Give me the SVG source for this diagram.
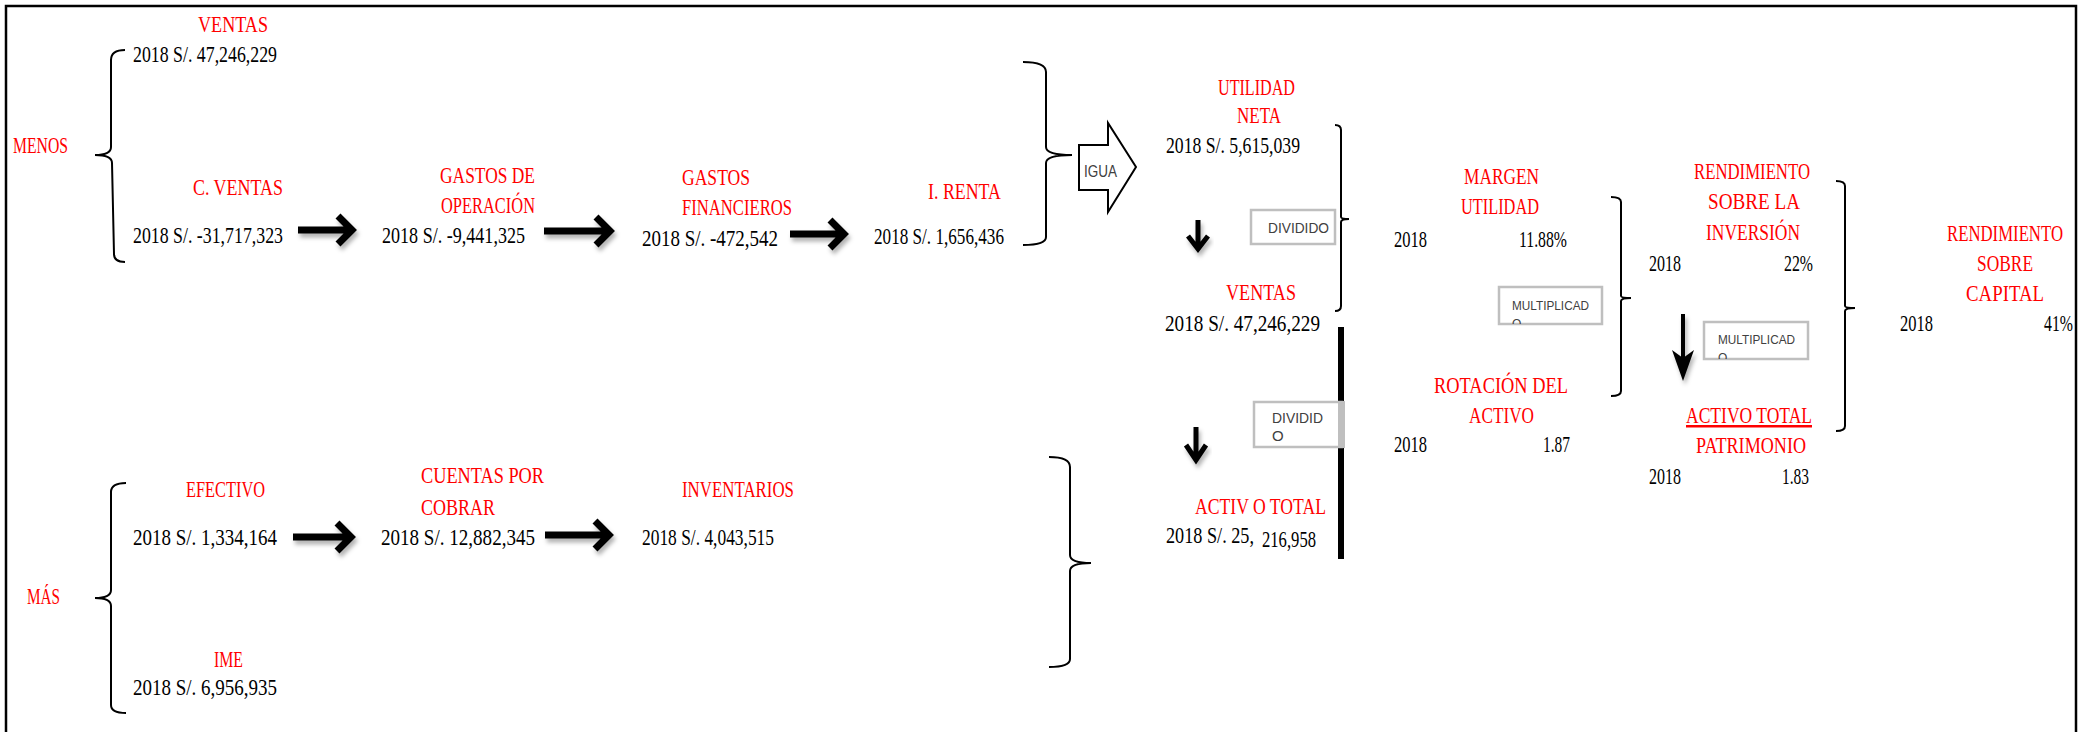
<svg xmlns="http://www.w3.org/2000/svg" width="2087" height="732" viewBox="0 0 2087 732">
<style>
.r{font-family:"Liberation Serif",serif;font-size:23px;fill:#FF0000;}
.k{font-family:"Liberation Serif",serif;font-size:23px;fill:#000;}
.s{font-family:"Liberation Sans",sans-serif;fill:#404040;}
.br{fill:none;stroke:#000;stroke-width:2;}
.ha{fill:none;stroke:#000;stroke-width:7;filter:url(#sh);}
.bx{fill:#fff;stroke:#BFBFBF;stroke-width:2.5;}
</style>
<defs>
<filter id="sh" x="-20%" y="-30%" width="150%" height="180%">
<feDropShadow dx="2" dy="4" stdDeviation="2" flood-color="#000" flood-opacity="0.3"/>
</filter>
<clipPath id="c1"><rect x="1499" y="287" width="103" height="37"/></clipPath>
<clipPath id="c2"><rect x="1704" y="322" width="104" height="37"/></clipPath>
</defs>
<rect x="6" y="6" width="2070" height="745" fill="none" stroke="#000" stroke-width="2.5"/>

<g id="connectors">
<path class="br" d="M125,50 Q111,50 111,60 L111,147 Q111,155 95,155 Q112,155 112,163 L114,254 Q114,262 125,262"/>
<path class="br" d="M1023,62 Q1046,62 1046,72 L1046,147 Q1046,155 1072,155 Q1046,155 1046,163 L1046,237 Q1046,245 1023,245"/>
<path class="br" d="M1335,125 Q1341,125 1341,130 L1341,217 Q1341,219 1349,219 Q1341,219 1341,222 L1341,306 Q1341,311 1335,311"/>
<path class="br" d="M1611,197 Q1621,197 1621,202 L1621,296 Q1621,298 1631,298 Q1621,298 1621,301 L1621,391 Q1621,396 1611,396"/>
<path class="br" d="M1836,181 Q1845,181 1845,186 L1845,306 Q1845,308 1855,308 Q1845,308 1845,311 L1845,426 Q1845,431 1836,431"/>
<path class="br" d="M1049,457 Q1070,457 1070,467 L1070,555 Q1070,563 1091,563 Q1070,563 1070,571 L1070,659 Q1070,667 1049,667"/>
<path class="br" d="M126,483 Q111,483 111,492 L111,590 Q111,598 95,598 Q111,598 111,606 L111,705 Q111,713 126,713"/>

<path class="ha" d="M298,230 H348 M338,216 L352,230 L338,244"/>
<path class="ha" d="M544,231 H606 M596,217 L610,231 L596,245"/>
<path class="ha" d="M790,234 H840 M830,220 L844,234 L830,248"/>
<path class="ha" d="M293,537 H347 M337,523 L351,537 L337,551"/>
<path class="ha" d="M545,535 H605 M595,521 L609,535 L595,549"/>

<path class="ha" style="stroke-width:5" d="M1198,220 V248 M1188,236 L1198,249 L1208,236"/>
<path class="ha" style="stroke-width:5" d="M1196,427 V459 M1186,445 L1196,460 L1206,445"/>
<g filter="url(#sh)">
<line x1="1683" y1="314" x2="1683" y2="362" stroke="#000" stroke-width="4"/>
<polygon points="1672,350 1683,358 1694,350 1683,381" fill="#000"/>
</g>

<rect x="1338" y="327" width="6" height="232" fill="#000"/>
</g>

<g id="n-ventas">
<text class="r" x="198" y="32" textLength="70" lengthAdjust="spacingAndGlyphs">VENTAS</text>
<text class="k" x="133" y="62" textLength="144" lengthAdjust="spacingAndGlyphs">2018  S/.  47,246,229</text>
</g>
<g id="n-menos"><text class="r" x="13" y="153" textLength="55" lengthAdjust="spacingAndGlyphs">MENOS</text></g>
<g id="n-cventas">
<text class="r" x="193" y="195" textLength="90" lengthAdjust="spacingAndGlyphs">C. VENTAS</text>
<text class="k" x="133" y="243" textLength="150" lengthAdjust="spacingAndGlyphs">2018  S/.  -31,717,323</text>
</g>
<g id="n-gop">
<text class="r" x="440" y="183" textLength="95" lengthAdjust="spacingAndGlyphs">GASTOS  DE</text>
<text class="r" x="441" y="213" textLength="94" lengthAdjust="spacingAndGlyphs">OPERACIÓN</text>
<text class="k" x="382" y="243" textLength="143" lengthAdjust="spacingAndGlyphs">2018  S/.  -9,441,325</text>
</g>
<g id="n-gfin">
<text class="r" x="682" y="185" textLength="68" lengthAdjust="spacingAndGlyphs">GASTOS</text>
<text class="r" x="682" y="215" textLength="110" lengthAdjust="spacingAndGlyphs">FINANCIEROS</text>
<text class="k" x="642" y="246" textLength="136" lengthAdjust="spacingAndGlyphs">2018  S/.  -472,542</text>
</g>
<g id="n-renta">
<text class="r" x="928" y="199" textLength="73" lengthAdjust="spacingAndGlyphs">I. RENTA</text>
<text class="k" x="874" y="244" textLength="130" lengthAdjust="spacingAndGlyphs">2018  S/. 1,656,436</text>
</g>
<g id="n-igua">
<polygon points="1079,145 1108,145 1108,123 1136,167 1108,212 1108,190 1079,190" fill="#fff" stroke="#000" stroke-width="2"/>
<text class="s" x="1084" y="177" font-size="16" textLength="33" lengthAdjust="spacingAndGlyphs">IGUA</text>
</g>
<g id="n-utilidad">
<text class="r" x="1218" y="95" textLength="77" lengthAdjust="spacingAndGlyphs">UTILIDAD</text>
<text class="r" x="1237" y="123" textLength="44" lengthAdjust="spacingAndGlyphs">NETA</text>
<text class="k" x="1166" y="153" textLength="134" lengthAdjust="spacingAndGlyphs">2018  S/.  5,615,039</text>
</g>
<g id="n-div1">
<rect class="bx" x="1251" y="210" width="84" height="34"/>
<text class="s" x="1268" y="233" font-size="14" textLength="61" lengthAdjust="spacingAndGlyphs">DIVIDIDO</text>
</g>
<g id="n-ventas2">
<text class="r" x="1226" y="300" textLength="70" lengthAdjust="spacingAndGlyphs">VENTAS</text>
<text class="k" x="1165" y="331" textLength="155" lengthAdjust="spacingAndGlyphs">2018 S/. 47,246,229</text>
</g>
<g id="n-div2">
<rect class="bx" x="1254" y="402" width="88" height="45"/>
<rect x="1338" y="401" width="7" height="47" fill="#BFBFBF"/>
<text class="s" x="1272" y="423" font-size="15" textLength="51" lengthAdjust="spacingAndGlyphs">DIVIDID</text>
<text class="s" x="1272" y="441" font-size="15">O</text>
</g>
<g id="n-activo">
<text class="r" x="1195" y="514" textLength="131" lengthAdjust="spacingAndGlyphs">ACTIV O TOTAL</text>
<text class="k" x="1166" y="543" textLength="88" lengthAdjust="spacingAndGlyphs">2018  S/.  25,</text>
<text class="k" x="1262" y="547" textLength="54" lengthAdjust="spacingAndGlyphs">216,958</text>
</g>
<g id="n-margen">
<text class="r" x="1464" y="184" textLength="75" lengthAdjust="spacingAndGlyphs">MARGEN</text>
<text class="r" x="1461" y="214" textLength="78" lengthAdjust="spacingAndGlyphs">UTILIDAD</text>
<text class="k" x="1394" y="247" textLength="33" lengthAdjust="spacingAndGlyphs">2018</text>
<text class="k" x="1519" y="247" textLength="48" lengthAdjust="spacingAndGlyphs">11.88%</text>
</g>
<g id="n-mult1">
<rect class="bx" x="1499" y="287" width="103" height="37"/>
<g clip-path="url(#c1)">
<text class="s" x="1512" y="310" font-size="12" textLength="77" lengthAdjust="spacingAndGlyphs">MULTIPLICAD</text>
<text class="s" x="1512" y="328" font-size="12">O</text>
</g>
</g>
<g id="n-rotacion">
<text class="r" x="1434" y="393" textLength="134" lengthAdjust="spacingAndGlyphs">ROTACIÓN  DEL</text>
<text class="r" x="1469" y="423" textLength="65" lengthAdjust="spacingAndGlyphs">ACTIVO</text>
<text class="k" x="1394" y="452" textLength="33" lengthAdjust="spacingAndGlyphs">2018</text>
<text class="k" x="1543" y="452" textLength="27" lengthAdjust="spacingAndGlyphs">1.87</text>
</g>
<g id="n-rsi">
<text class="r" x="1694" y="179" textLength="116" lengthAdjust="spacingAndGlyphs">RENDIMIENTO</text>
<text class="r" x="1708" y="209" textLength="92" lengthAdjust="spacingAndGlyphs">SOBRE  LA</text>
<text class="r" x="1706" y="240" textLength="94" lengthAdjust="spacingAndGlyphs">INVERSIÓN</text>
<text class="k" x="1649" y="271" textLength="32" lengthAdjust="spacingAndGlyphs">2018</text>
<text class="k" x="1784" y="271" textLength="29" lengthAdjust="spacingAndGlyphs">22%</text>
</g>
<g id="n-mult2">
<rect class="bx" x="1704" y="322" width="104" height="37"/>
<g clip-path="url(#c2)">
<text class="s" x="1718" y="344" font-size="12" textLength="77" lengthAdjust="spacingAndGlyphs">MULTIPLICAD</text>
<text class="s" x="1718" y="362" font-size="12">O</text>
</g>
</g>
<g id="n-atp">
<text class="r" x="1686" y="423" textLength="126" lengthAdjust="spacingAndGlyphs">ACTIVO  TOTAL</text>
<rect x="1686" y="425" width="126" height="2.5" fill="#FF0000"/>
<text class="r" x="1696" y="453" textLength="110" lengthAdjust="spacingAndGlyphs">PATRIMONIO</text>
<text class="k" x="1649" y="484" textLength="32" lengthAdjust="spacingAndGlyphs">2018</text>
<text class="k" x="1782" y="484" textLength="27" lengthAdjust="spacingAndGlyphs">1.83</text>
</g>
<g id="n-rsc">
<text class="r" x="1947" y="241" textLength="116" lengthAdjust="spacingAndGlyphs">RENDIMIENTO</text>
<text class="r" x="1977" y="271" textLength="56" lengthAdjust="spacingAndGlyphs">SOBRE</text>
<text class="r" x="1966" y="301" textLength="78" lengthAdjust="spacingAndGlyphs">CAPITAL</text>
<text class="k" x="1900" y="331" textLength="33" lengthAdjust="spacingAndGlyphs">2018</text>
<text class="k" x="2044" y="331" textLength="29" lengthAdjust="spacingAndGlyphs">41%</text>
</g>
<g id="n-mas"><text class="r" x="27" y="604" textLength="33" lengthAdjust="spacingAndGlyphs">MÁS</text></g>
<g id="n-efectivo">
<text class="r" x="186" y="497" textLength="79" lengthAdjust="spacingAndGlyphs">EFECTIVO</text>
<text class="k" x="133" y="545" textLength="144" lengthAdjust="spacingAndGlyphs">2018  S/.  1,334,164</text>
</g>
<g id="n-cuentas">
<text class="r" x="421" y="483" textLength="123" lengthAdjust="spacingAndGlyphs">CUENTAS  POR</text>
<text class="r" x="421" y="515" textLength="74" lengthAdjust="spacingAndGlyphs">COBRAR</text>
<text class="k" x="381" y="545" textLength="154" lengthAdjust="spacingAndGlyphs">2018  S/.  12,882,345</text>
</g>
<g id="n-inventarios">
<text class="r" x="682" y="497" textLength="112" lengthAdjust="spacingAndGlyphs">INVENTARIOS</text>
<text class="k" x="642" y="545" textLength="132" lengthAdjust="spacingAndGlyphs">2018  S/. 4,043,515</text>
</g>
<g id="n-ime">
<text class="r" x="214" y="667" textLength="29" lengthAdjust="spacingAndGlyphs">IME</text>
<text class="k" x="133" y="695" textLength="144" lengthAdjust="spacingAndGlyphs">2018  S/.  6,956,935</text>
</g>
</svg>
